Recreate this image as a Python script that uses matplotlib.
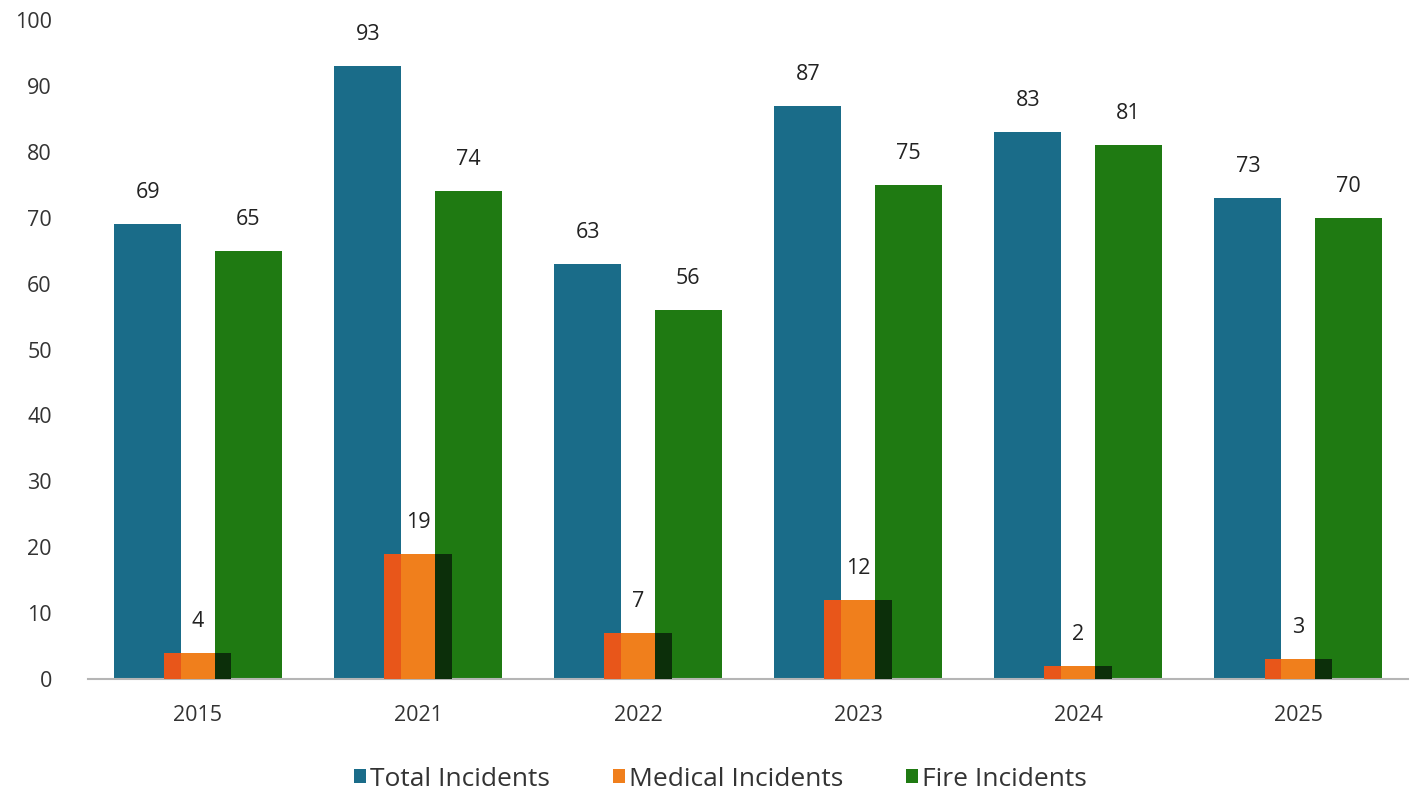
import numpy as np
from matplotlib import pyplot as plt

years = ["2015", "2021", "2022", "2023", "2024", "2025"]
total = [69, 93, 63, 87, 83, 73]
medical = [4, 19, 7, 12, 2, 3]
fire = [65, 74, 56, 75, 81, 70]

plt.rcParams['font.family'] = ['Open Sans', 'DejaVu Sans']

fig = plt.figure(figsize=(14.18, 7.98), dpi=100)
ax = fig.add_axes([0.062, 0.149, 0.931, 0.826])

x = np.arange(len(years))
w = 0.305
off = 0.228

b_total = ax.bar(x - off, total, w, color='#1a6c89', label='Total Incidents', zorder=2)
b_fire = ax.bar(x + off, fire, w, color='#1f7a12', label='Fire Incidents', zorder=2)
b_med = ax.bar(x, medical, w, color='#f07f1c', label='Medical Incidents', zorder=3)

# overlap shading where the medical bar sits on the neighbours
for pm, pt, pf in zip(b_med.patches, b_total.patches, b_fire.patches):
    h = pm.get_height()
    left = pm.get_x()
    t_right = pt.get_x() + pt.get_width()
    if t_right > left:
        ax.bar(left, h, t_right - left, align='edge', color='#e8561a', zorder=4)
    f_left = pf.get_x()
    m_right = left + pm.get_width()
    if m_right > f_left:
        ax.bar(f_left, h, m_right - f_left, align='edge', color='#0c2f0a', zorder=4)

for bars in (b_total, b_med, b_fire):
    for p in bars.patches:
        ax.annotate(f"{p.get_height():.0f}",
                    (p.get_x() + p.get_width() / 2, p.get_height()),
                    xytext=(0, 15), textcoords='offset points',
                    ha='center', va='bottom', fontsize=15.5, color='#222222', zorder=5)

ax.set_xlim(-0.5, len(years) - 0.5)
ax.set_ylim(0, 100)
ax.set_yticks(range(0, 101, 10))
ax.set_xticks(x)
ax.set_xticklabels(years)
ax.tick_params(axis='both', length=0, labelsize=15.5, colors='#333333')
ax.tick_params(axis='x', pad=19)
ax.tick_params(axis='y', pad=26)

for s in ('top', 'right', 'left'):
    ax.spines[s].set_visible(False)
ax.spines['bottom'].set_color('#b5b5b5')
ax.spines['bottom'].set_linewidth(1.5)

handles = [b_total, b_med, b_fire]
fig.legend(handles, [h.get_label() for h in handles], loc='lower center',
           bbox_to_anchor=(0.508, -0.022), ncol=3, frameon=False, fontsize=19,
           handlelength=0.45, handleheight=0.45, handletextpad=0.15, columnspacing=2.4,
           labelcolor='#333333')

plt.savefig('out.png')
